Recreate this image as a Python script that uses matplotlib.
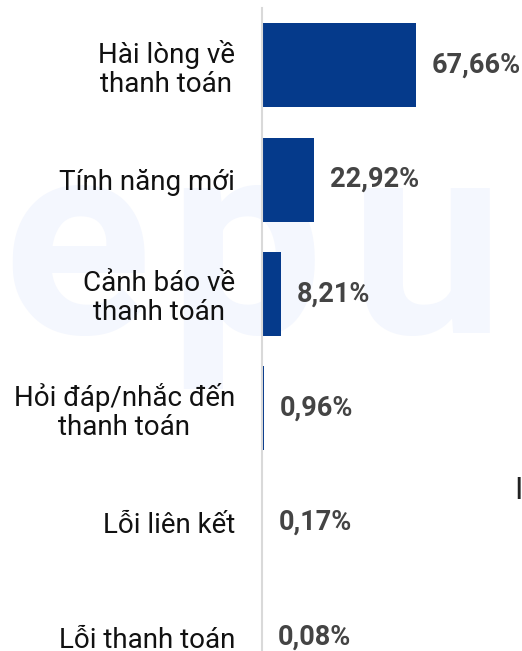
import matplotlib

matplotlib.use("Agg")
import matplotlib.pyplot as plt
import matplotlib.transforms as mtransforms

categories = [
    "Hài lòng về\nthanh toán",
    "Tính năng mới",
    "Cảnh báo về\nthanh toán",
    "Hỏi đáp/nhắc đến\nthanh toán",
    "Lỗi liên kết",
    "Lỗi thanh toán",
]
values = [67.66, 22.92, 8.21, 0.96, 0.17, 0.08]
value_labels = ["67,66%", "22,92%", "8,21%", "0,96%", "0,17%", "0,08%"]

W, H = 522, 651
DPI = 100
plt.rcParams["font.family"] = ["Roboto", "DejaVu Sans"]

fig = plt.figure(figsize=(W / DPI, H / DPI), dpi=DPI)
fig.patch.set_facecolor("white")

# faint watermark letters behind the chart
wm_color = "#f4f7fe"
for ch, px in zip("epu", [2, 168, 350]):
    fig.text(px / W, 1 - 333 / H, ch, fontsize=198, fontweight="bold",
             color=wm_color, ha="left", va="baseline", zorder=0)

# clipped fragment of a neighbouring label at the right edge
fig.text(514 / W, 1 - 499 / H, "I", fontsize=22, color="#222222",
         ha="left", va="baseline")

ax = fig.add_axes([262 / W, 0, (W - 262) / W, 643 / H])
ax.set_facecolor("none")
ax.set_zorder(1)

y = list(range(len(categories)))
ax.barh(y, values, height=0.735, color="#053a8b", zorder=2)

ax.set_xlim(0, (W - 262) / 2.27)
ax.set_ylim(5 + 14 / 114.4, -0.5)

ax.set_yticks(y)
ax.set_yticklabels(categories, fontsize=20, color="#111111", linespacing=1.1)
for t in ax.get_yticklabels():
    t.set_multialignment("center")
ax.tick_params(axis="y", length=0, pad=19.5)
ax.set_xticks([])

for s in ["top", "right", "bottom"]:
    ax.spines[s].set_visible(False)
ax.spines["left"].set_color("#d9d9d9")
ax.spines["left"].set_linewidth(1.5)

offset = mtransforms.ScaledTranslation(16 / DPI, 0, fig.dpi_scale_trans)
for yi, v, lab in zip(y, values, value_labels):
    ax.text(v, yi, lab, fontsize=19.5, fontweight="bold", color="#444444",
            ha="left", va="center", transform=ax.transData + offset)

fig.savefig("out.png", dpi=DPI)
